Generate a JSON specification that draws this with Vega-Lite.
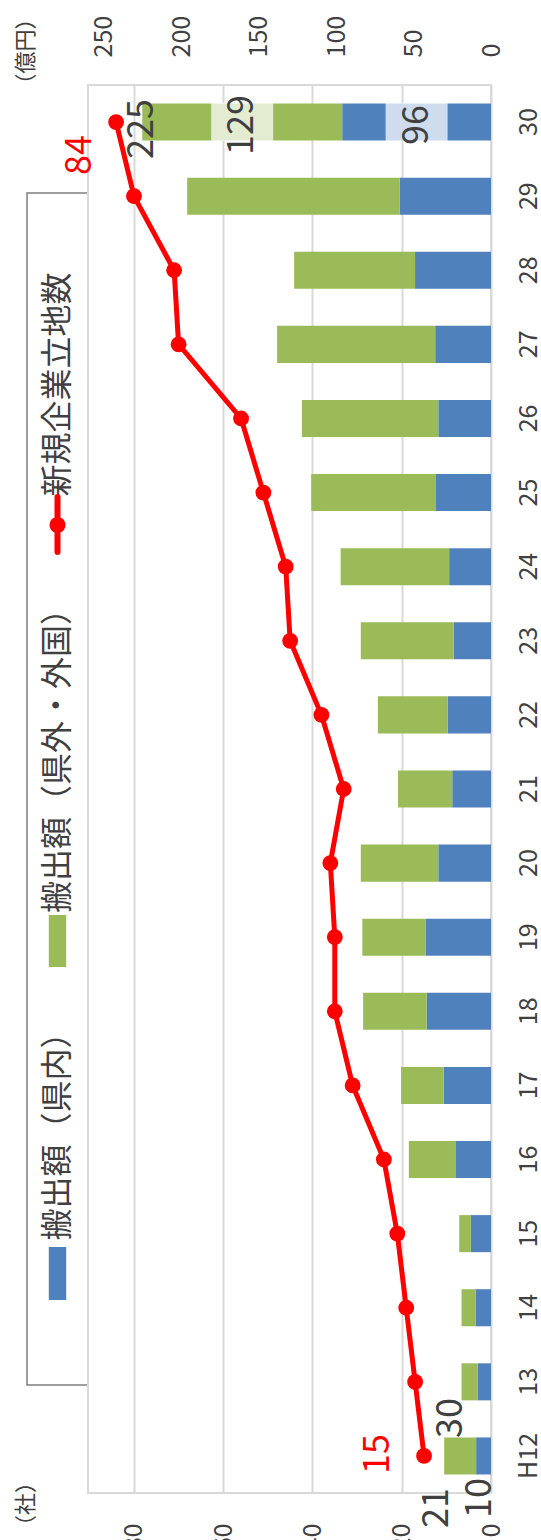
{
  "$schema": "https://vega.github.io/schema/vega-lite/v6.json",
  "background": "white",
  "padding": {"left": 14, "top": 6, "right": 5, "bottom": 0},
  "config": {"font": "Noto Sans CJK JP", "view": {"stroke": null}},
  "datasets": {
    "amounts": [
      {"year": "H12", "series": "搬出額（県内）", "amount": 9.6},
      {"year": "H12", "series": "搬出額（県外・外国）", "amount": 20.6},
      {"year": "13", "series": "搬出額（県内）", "amount": 8.5},
      {"year": "13", "series": "搬出額（県外・外国）", "amount": 10.5},
      {"year": "14", "series": "搬出額（県内）", "amount": 10},
      {"year": "14", "series": "搬出額（県外・外国）", "amount": 9},
      {"year": "15", "series": "搬出額（県内）", "amount": 13},
      {"year": "15", "series": "搬出額（県外・外国）", "amount": 7.5},
      {"year": "16", "series": "搬出額（県内）", "amount": 23},
      {"year": "16", "series": "搬出額（県外・外国）", "amount": 30},
      {"year": "17", "series": "搬出額（県内）", "amount": 30.5},
      {"year": "17", "series": "搬出額（県外・外国）", "amount": 27.5},
      {"year": "18", "series": "搬出額（県内）", "amount": 41.5},
      {"year": "18", "series": "搬出額（県外・外国）", "amount": 41},
      {"year": "19", "series": "搬出額（県内）", "amount": 42},
      {"year": "19", "series": "搬出額（県外・外国）", "amount": 41},
      {"year": "20", "series": "搬出額（県内）", "amount": 34},
      {"year": "20", "series": "搬出額（県外・外国）", "amount": 50},
      {"year": "21", "series": "搬出額（県内）", "amount": 25},
      {"year": "21", "series": "搬出額（県外・外国）", "amount": 35},
      {"year": "22", "series": "搬出額（県内）", "amount": 28},
      {"year": "22", "series": "搬出額（県外・外国）", "amount": 45},
      {"year": "23", "series": "搬出額（県内）", "amount": 24},
      {"year": "23", "series": "搬出額（県外・外国）", "amount": 60},
      {"year": "24", "series": "搬出額（県内）", "amount": 27},
      {"year": "24", "series": "搬出額（県外・外国）", "amount": 70},
      {"year": "25", "series": "搬出額（県内）", "amount": 35.5},
      {"year": "25", "series": "搬出額（県外・外国）", "amount": 80.5},
      {"year": "26", "series": "搬出額（県内）", "amount": 34},
      {"year": "26", "series": "搬出額（県外・外国）", "amount": 88},
      {"year": "27", "series": "搬出額（県内）", "amount": 36},
      {"year": "27", "series": "搬出額（県外・外国）", "amount": 102},
      {"year": "28", "series": "搬出額（県内）", "amount": 49},
      {"year": "28", "series": "搬出額（県外・外国）", "amount": 78},
      {"year": "29", "series": "搬出額（県内）", "amount": 59},
      {"year": "29", "series": "搬出額（県外・外国）", "amount": 137},
      {"year": "30", "series": "搬出額（県内）", "amount": 96},
      {"year": "30", "series": "搬出額（県外・外国）", "amount": 129}
    ],
    "companies": [
      {"year": "H12", "count": 15},
      {"year": "13", "count": 17},
      {"year": "14", "count": 19},
      {"year": "15", "count": 21},
      {"year": "16", "count": 24},
      {"year": "17", "count": 31},
      {"year": "18", "count": 35},
      {"year": "19", "count": 35},
      {"year": "20", "count": 36},
      {"year": "21", "count": 33},
      {"year": "22", "count": 38},
      {"year": "23", "count": 45},
      {"year": "24", "count": 46},
      {"year": "25", "count": 51},
      {"year": "26", "count": 56},
      {"year": "27", "count": 70},
      {"year": "28", "count": 71},
      {"year": "29", "count": 80},
      {"year": "30", "count": 84}
    ],
    "legendItems": [
      {"entry": "新規企業立地数"},
      {"entry": "搬出額（県外・外国）"},
      {"entry": "搬出額（県内）"}
    ],
    "unitTitles": [
      {"axis": "amount", "label": "（億円）"},
      {"axis": "count", "label": "（社）"}
    ]
  },
  "spacing": 0,
  "bounds": "flush",
  "center": true,
  "hconcat": [
    {
      "width": 61,
      "height": 1192,
      "view": {"stroke": "#7f7f7f", "strokeWidth": 1.5},
      "data": {"name": "legendItems"},
      "encoding": {
        "y": {"field": "entry", "type": "nominal", "scale": {"type": "point", "domain": ["新規企業立地数", "搬出額（県外・外国）", "搬出額（県内）"], "padding": 0.581}, "axis": null}
      },
      "layer": [
        {"transform": [{"filter": "datum.entry === '新規企業立地数'"}], "mark": {"type": "text", "angle": 270, "align": "center", "baseline": "middle", "fontSize": 32, "color": "#404040", "dx": 27.5}, "encoding": {"text": {"field": "entry"}}},
        {"transform": [{"filter": "datum.entry === '搬出額（県外・外国）'"}], "mark": {"type": "text", "angle": 270, "align": "center", "baseline": "middle", "fontSize": 32, "color": "#404040", "dx": 36}, "encoding": {"text": {"field": "entry"}}},
        {"transform": [{"filter": "datum.entry === '搬出額（県内）'"}], "mark": {"type": "text", "angle": 270, "align": "center", "baseline": "middle", "fontSize": 32, "color": "#404040", "dx": 37.5}, "encoding": {"text": {"field": "entry"}}},
        {"transform": [{"filter": "datum.entry === '新規企業立地数'"}], "mark": {"type": "point", "shape": "M0,8.5L0,14", "size": 400, "filled": false, "color": "#FF0000", "strokeWidth": 6, "strokeCap": "round", "opacity": 1}, "encoding": {}},
        {"transform": [{"filter": "datum.entry === '新規企業立地数'"}], "mark": {"type": "point", "shape": "M-0.8,11.3A0.8,0.8 0 1,0 0.8,11.3A0.8,0.8 0 1,0 -0.8,11.3Z", "size": 400, "filled": true, "color": "#FF0000", "opacity": 1}, "encoding": {}},
        {"transform": [{"filter": "datum.entry === '搬出額（県外・外国）'"}], "mark": {"type": "point", "shape": "M-0.87,12.6H0.87V17.8H-0.87Z", "size": 400, "filled": true, "color": "#9BBB59", "opacity": 1}, "encoding": {}},
        {"transform": [{"filter": "datum.entry === '搬出額（県内）'"}], "mark": {"type": "point", "shape": "M-0.87,8.1H0.87V13.4H-0.87Z", "size": 400, "filled": true, "color": "#4F81BD", "opacity": 1}, "encoding": {}},
        {
          "data": {"name": "unitTitles"},
          "transform": [{"filter": "datum.axis === 'amount'"}],
          "mark": {"type": "text", "angle": 270, "align": "center", "baseline": "middle", "fontSize": 22, "color": "#404040", "dx": 360.5, "dy": -31.5},
          "encoding": {"y": {"datum": "新規企業立地数", "axis": null}, "text": {"field": "label"}}
        },
        {
          "data": {"name": "unitTitles"},
          "transform": [{"filter": "datum.axis === 'count'"}],
          "mark": {"type": "text", "angle": 270, "align": "center", "baseline": "middle", "fontSize": 22, "color": "#404040", "dx": -338, "dy": -31.5},
          "encoding": {"y": {"datum": "搬出額（県内）", "axis": null}, "text": {"field": "label"}}
        }
      ]
    },
    {
      "width": 403,
      "height": 1408,
      "view": {"stroke": "#d9d9d9", "strokeWidth": 2},
      "encoding": {
        "y": {
          "field": "year", "type": "nominal",
          "sort": ["30", "29", "28", "27", "26", "25", "24", "23", "22", "21", "20", "19", "18", "17", "16", "15", "14", "13", "H12"],
          "scale": {"paddingInner": 0.5, "paddingOuter": 0.25},
          "axis": {"orient": "right", "domain": false, "ticks": false, "grid": false, "labelAngle": 270, "labelAlign": "center", "labelBaseline": "top", "labelPadding": 25, "labelFontSize": 25, "labelColor": "#404040", "title": null}
        }
      },
      "layer": [
        {
          "data": {"name": "companies"},
          "mark": {"type": "rule", "opacity": 0},
          "encoding": {
            "x": {
              "field": "count", "type": "quantitative",
              "scale": {"domain": [0, 90.3], "reverse": true, "nice": false},
              "axis": {"orient": "bottom", "values": [0, 20, 40, 60, 80], "grid": true, "gridColor": "#d9d9d9", "gridWidth": 2, "domain": false, "ticks": false, "labelAngle": 270, "labelAlign": "right", "labelBaseline": "middle", "labelPadding": 30, "labelFontSize": 25, "labelColor": "#404040", "labelFlush": false, "labelOverlap": false, "title": null}
            }
          }
        },
        {
          "data": {"name": "amounts"},
          "mark": {"type": "bar"},
          "encoding": {
            "x": {
              "field": "amount", "type": "quantitative", "stack": "zero",
              "scale": {"domain": [0, 260], "reverse": true, "nice": false},
              "axis": {"orient": "top", "values": [0, 50, 100, 150, 200, 250], "grid": false, "domain": false, "ticks": false, "labelAngle": 270, "labelAlign": "left", "labelBaseline": "middle", "labelPadding": 28, "labelFontSize": 25, "labelColor": "#404040", "labelFlush": false, "labelOverlap": false, "title": null}
            },
            "color": {"field": "series", "type": "nominal", "scale": {"domain": ["搬出額（県内）", "搬出額（県外・外国）"], "range": ["#4F81BD", "#9BBB59"]}, "legend": null},
            "order": {"field": "series", "sort": "ascending"}
          }
        },
        {
          "data": {"name": "amounts"},
          "transform": [{"filter": "datum.year === '30'"}],
          "mark": {"type": "tick", "thickness": 62, "size": 38, "color": "#ffffff", "opacity": 0.72},
          "encoding": {
            "x": {"field": "amount", "type": "quantitative", "stack": "zero", "bandPosition": 0.5, "scale": {"domain": [0, 260], "reverse": true, "nice": false}, "axis": null},
            "detail": {"field": "series"},
            "order": {"field": "series", "sort": "ascending"}
          }
        },
        {
          "data": {"name": "amounts"},
          "transform": [{"filter": "datum.year === '30'"}],
          "mark": {"type": "text", "angle": 270, "align": "center", "baseline": "middle", "fontSize": 36, "color": "#404040", "dx": -3},
          "encoding": {
            "x": {"field": "amount", "type": "quantitative", "stack": "zero", "bandPosition": 0.5, "scale": {"domain": [0, 260], "reverse": true, "nice": false}, "axis": null},
            "detail": {"field": "series"},
            "order": {"field": "series", "sort": "ascending"},
            "text": {"field": "amount", "type": "quantitative", "format": ".0f"}
          }
        },
        {
          "data": {"name": "amounts"},
          "transform": [{"filter": "datum.year === 'H12'"}],
          "mark": {"type": "text", "angle": 270, "align": "center", "baseline": "middle", "fontSize": 36, "color": "#404040", "dx": -42, "dy": -3.5},
          "encoding": {
            "x": {"field": "amount", "type": "quantitative", "stack": "zero", "bandPosition": 0.5, "scale": {"domain": [0, 260], "reverse": true, "nice": false}, "axis": null},
            "detail": {"field": "series"},
            "order": {"field": "series", "sort": "ascending"},
            "text": {"field": "amount", "type": "quantitative", "format": ".0f"},
            "opacity": {"condition": {"test": "datum.series === '搬出額（県内）'", "value": 1}, "value": 0}
          }
        },
        {
          "data": {"name": "amounts"},
          "transform": [{"filter": "datum.year === 'H12'"}],
          "mark": {"type": "text", "angle": 270, "align": "center", "baseline": "middle", "fontSize": 36, "color": "#404040", "dx": -52, "dy": -23},
          "encoding": {
            "x": {"field": "amount", "type": "quantitative", "stack": "zero", "bandPosition": 0.5, "scale": {"domain": [0, 260], "reverse": true, "nice": false}, "axis": null},
            "detail": {"field": "series"},
            "order": {"field": "series", "sort": "ascending"},
            "text": {"field": "amount", "type": "quantitative", "format": ".0f"},
            "opacity": {"condition": {"test": "datum.series === '搬出額（県外・外国）'", "value": 1}, "value": 0}
          }
        },
        {
          "data": {"name": "amounts"},
          "transform": [{"filter": "datum.year === '30'"}, {"aggregate": [{"op": "sum", "field": "amount", "as": "total"}], "groupby": ["year"]}],
          "mark": {"type": "text", "angle": 270, "align": "center", "baseline": "middle", "fontSize": 36, "color": "#404040", "dx": -7},
          "encoding": {
            "x": {"field": "total", "type": "quantitative", "scale": {"domain": [0, 260], "reverse": true, "nice": false}, "axis": null},
            "text": {"field": "total", "type": "quantitative", "format": ".0f"}
          }
        },
        {
          "data": {"name": "amounts"},
          "transform": [{"filter": "datum.year === 'H12'"}, {"aggregate": [{"op": "sum", "field": "amount", "as": "total"}], "groupby": ["year"]}],
          "mark": {"type": "text", "angle": 270, "align": "center", "baseline": "middle", "fontSize": 36, "color": "#404040", "dx": 38, "dy": 7},
          "encoding": {
            "x": {"field": "total", "type": "quantitative", "scale": {"domain": [0, 260], "reverse": true, "nice": false}, "axis": null},
            "text": {"field": "total", "type": "quantitative", "format": ".0f"}
          }
        },
        {
          "data": {"name": "companies"},
          "mark": {"type": "line", "color": "#FF0000", "strokeWidth": 5},
          "encoding": {
            "x": {"field": "count", "type": "quantitative", "scale": {"domain": [0, 90.3], "reverse": true, "nice": false}, "axis": null},
            "order": {"value": null}
          }
        },
        {
          "data": {"name": "companies"},
          "mark": {"type": "point", "filled": true, "size": 250, "color": "#FF0000", "opacity": 1},
          "encoding": {
            "x": {"field": "count", "type": "quantitative", "scale": {"domain": [0, 90.3], "reverse": true, "nice": false}, "axis": null}
          }
        },
        {
          "data": {"name": "companies"},
          "transform": [{"filter": "datum.year === '30'"}],
          "mark": {"type": "text", "angle": 270, "align": "center", "baseline": "middle", "fontSize": 36, "color": "#FF0000", "dx": -33, "dy": -36},
          "encoding": {
            "x": {"field": "count", "type": "quantitative", "scale": {"domain": [0, 90.3], "reverse": true, "nice": false}, "axis": null},
            "text": {"field": "count", "type": "quantitative"}
          }
        },
        {
          "data": {"name": "companies"},
          "transform": [{"filter": "datum.year === 'H12'"}],
          "mark": {"type": "text", "angle": 270, "align": "center", "baseline": "middle", "fontSize": 36, "color": "#FF0000", "dx": 2, "dy": -46},
          "encoding": {
            "x": {"field": "count", "type": "quantitative", "scale": {"domain": [0, 90.3], "reverse": true, "nice": false}, "axis": null},
            "text": {"field": "count", "type": "quantitative"}
          }
        }
      ],
      "resolve": {"scale": {"x": "independent"}, "axis": {"x": "independent"}}
    }
  ]
}
